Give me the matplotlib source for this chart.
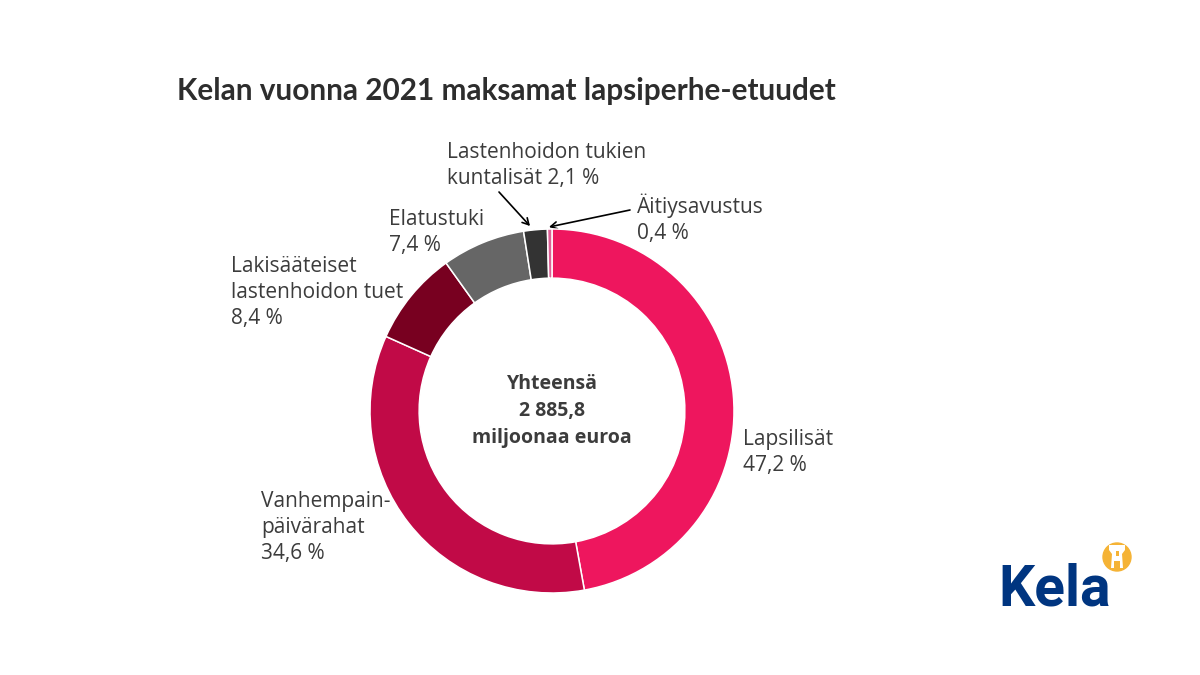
import matplotlib
matplotlib.use("Agg")
import matplotlib.pyplot as plt
from matplotlib.patches import Circle, Polygon, Rectangle

plt.rcParams['font.family'] = ['Open Sans', 'DejaVu Sans']

labels = ["Lapsilisät", "Vanhempainpäivärahat", "Lakisääteiset lastenhoidon tuet",
          "Elatustuki", "Lastenhoidon tukien kuntalisät", "Äitiysavustus"]
shares = [47.2, 34.6, 8.4, 7.4, 2.1, 0.4]
colors = ["#ee165e", "#c10a47", "#780020", "#666666", "#333333", "#dd5f95"]
title = "Kelan vuonna 2021 maksamat lapsiperhe-etuudet"
center_text = "Yhteensä\n2 885,8\nmiljoonaa euroa"
text_color = "#3c3c3c"

fig = plt.figure(figsize=(12, 6.75), dpi=100)
bg = fig.add_axes([0, 0, 1, 1])
bg.set_xlim(0, 1200)
bg.set_ylim(675, 0)
bg.axis("off")

# donut centre about (552, 411), outer radius 182
ax = fig.add_axes([(552 - 182) / 1200, 1 - (411 + 182) / 675, 364 / 1200, 364 / 675])
ax.pie(shares, colors=colors, startangle=90, counterclock=False, radius=1,
       wedgeprops=dict(width=0.27, edgecolor="white", linewidth=1.1))
ax.set_xlim(-1, 1)
ax.set_ylim(-1, 1)

bg.text(177, 91, title, fontsize=21.4, color="#2d2d2d", va="center", ha="left",
        family="Lato", fontweight="bold")
bg.text(552, 411, center_text, fontsize=14, color=text_color, fontweight="bold",
        ha="center", va="center", linespacing=1.45)

def note(x, y, s):
    bg.text(x, y, s, fontsize=15, color=text_color, ha="left", va="top", linespacing=1.32)

note(743, 429, "Lapsilisät\n47,2 %")
note(261, 491, "Vanhempain-\npäivärahat\n34,6 %")
note(231, 256, "Lakisääteiset\nlastenhoidon tuet\n8,4 %")
note(389, 209, "Elatustuki\n7,4 %")
note(447, 142, "Lastenhoidon tukien\nkuntalisät 2,1 %")
note(637, 193, "Äitiysavustus\n0,4 %")

arrow = dict(arrowstyle="->,head_length=0.45,head_width=0.25", color="black", lw=1.2,
             mutation_scale=10, shrinkA=0, shrinkB=0)
bg.annotate("", xy=(530, 226), xytext=(499, 192), arrowprops=arrow)
bg.annotate("", xy=(549, 227), xytext=(630, 210), arrowprops=arrow)

# logo
bg.text(998, 606, "Kela", fontsize=41, color="#003580", family="Roboto", fontweight="bold",
        ha="left", va="baseline")
bg.add_patch(Circle((1117, 557), 14, color="#f5b335"))
bg.add_patch(Polygon([(1109, 545), (1125, 545), (1125, 550), (1122, 554), (1123, 568),
                      (1111, 568), (1112, 554), (1109, 550)], closed=True, fc="white", ec="none"))
bg.add_patch(Rectangle((1114, 561), 6, 7, fc="#f5b335", ec="none"))
bg.add_patch(Rectangle((1115.5, 551), 3, 5, fc="#f5b335", ec="none"))

fig.savefig("out.png", dpi=100)
